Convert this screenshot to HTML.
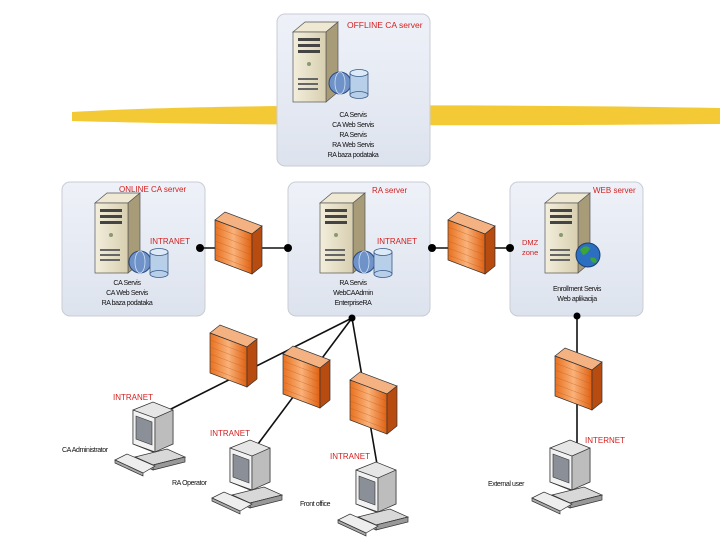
<!DOCTYPE html>
<html><head><meta charset="utf-8"><style>
html,body{margin:0;padding:0;background:#fff;}
svg{display:block;}
text{font-family:"Liberation Sans",sans-serif;}
</style></head><body>
<svg width="720" height="540" viewBox="0 0 720 540" xmlns="http://www.w3.org/2000/svg">
<defs>
<linearGradient id="box" x1="0" y1="0" x2="0" y2="1"><stop offset="0" stop-color="#eef1f8"/><stop offset="1" stop-color="#dde3ee"/></linearGradient>
<linearGradient id="fw" x1="0" y1="0" x2="1" y2="0"><stop offset="0" stop-color="#e8701e"/><stop offset="0.5" stop-color="#f9b27a"/><stop offset="1" stop-color="#e06010"/></linearGradient>
<linearGradient id="srv" x1="0" y1="0" x2="1" y2="0"><stop offset="0" stop-color="#f3eedc"/><stop offset="1" stop-color="#d8cfb0"/></linearGradient>
<g id="server">
  <polygon points="0,10 12,0 45,0 33,10" fill="#efe9d4" stroke="#555" stroke-width="0.7"/>
  <polygon points="33,10 45,0 45,70 33,80" fill="#a89c78" stroke="#555" stroke-width="0.7"/>
  <rect x="0" y="10" width="33" height="70" fill="url(#srv)" stroke="#555" stroke-width="0.7"/>
  <rect x="5" y="16" width="22" height="3" fill="#444"/>
  <rect x="5" y="22" width="22" height="3" fill="#444"/>
  <rect x="5" y="28" width="22" height="3" fill="#444"/>
  <circle cx="16" cy="42" r="2" fill="#8a9a70"/>
  <rect x="5" y="56" width="20" height="2" fill="#666"/>
  <rect x="5" y="61" width="20" height="2" fill="#666"/>
  <rect x="5" y="66" width="20" height="2" fill="#666"/>
</g>
<g id="dbglobe">
  <circle cx="0" cy="0" r="11" fill="#6f93c8" stroke="#2a4a80"/>
  <ellipse cx="0" cy="0" rx="5" ry="11" fill="none" stroke="#cfe0f5" stroke-width="0.8"/>
  <rect x="10" y="-10" width="18" height="22" fill="#b7cfe8" stroke="#3a5a8a" stroke-width="0.8"/>
  <ellipse cx="19" cy="-10" rx="9" ry="3.5" fill="#dce9f6" stroke="#3a5a8a" stroke-width="0.8"/>
  <ellipse cx="19" cy="12" rx="9" ry="3.5" fill="#b7cfe8" stroke="#3a5a8a" stroke-width="0.8"/>
</g>
<g id="firewall">
  <polygon points="0,8 10,0 47,14 37,22" fill="#f4b283" stroke="#333" stroke-width="0.7"/>
  <polygon points="0,8 37,22 37,62 0,48" fill="url(#fw)" stroke="#333" stroke-width="0.7"/>
  <polygon points="37,22 47,14 47,54 37,62" fill="#b84c10" stroke="#333" stroke-width="0.7"/>
  <g stroke="#c0581a" stroke-width="0.5" opacity="0.6">
   <line x1="0" y1="15" x2="37" y2="29"/><line x1="0" y1="22" x2="37" y2="36"/><line x1="0" y1="29" x2="37" y2="43"/><line x1="0" y1="36" x2="37" y2="50"/><line x1="0" y1="43" x2="37" y2="57"/>
  </g>
</g>
<g id="pc">
  <polygon points="20,55 52,47 70,55 38,63" fill="#d8d8d8" stroke="#333" stroke-width="0.7"/>
  <polygon points="38,63 70,55 70,60 38,68" fill="#999" stroke="#333" stroke-width="0.7"/>
  <polygon points="20,55 38,63 38,68 20,60" fill="#bbb" stroke="#333" stroke-width="0.7"/>
  <polygon points="18,8 38,0 58,8 58,42 38,50 18,42" fill="#e6e6e6" stroke="#333" stroke-width="0.7"/>
  <polygon points="18,8 40,16 40,50 18,42" fill="#f2f2f2" stroke="#333" stroke-width="0.7"/>
  <polygon points="21,14 37,20 37,43 21,37" fill="#8a8f98" stroke="#333" stroke-width="0.6"/>
  <polygon points="40,16 58,8 58,42 40,50" fill="#bdbdbd" stroke="#333" stroke-width="0.7"/>
  <polygon points="0,58 12,52 40,64 28,71" fill="#eee" stroke="#333" stroke-width="0.7"/>
  <polygon points="0,58 28,71 28,74 0,61" fill="#aaa" stroke="#333" stroke-width="0.7"/>
</g>
</defs>

<!-- yellow brush stroke -->
<path d="M72,112 C200,104 500,104 720,108 L720,124 C500,126 250,126 72,121 Z" fill="#f2c420" opacity="0.9"/>

<!-- top box -->
<rect x="277" y="14" width="153" height="152" rx="8" fill="url(#box)" stroke="#c8ccd4"/>
<use href="#server" x="293" y="22"/>
<use href="#dbglobe" x="340" y="83"/>
<text x="347" y="28" font-size="8.5" fill="#d42020">OFFLINE CA server</text>
<g font-size="7" fill="#111" text-anchor="middle" letter-spacing="-0.4">
<text x="353" y="117">CA Servis</text><text x="353" y="127">CA Web Servis</text><text x="353" y="137">RA Servis</text><text x="353" y="147">RA Web Servis</text><text x="353" y="157">RA baza podataka</text>
</g>

<!-- row boxes -->
<rect x="62" y="182" width="143" height="134" rx="8" fill="url(#box)" stroke="#c8ccd4"/>
<rect x="288" y="182" width="142" height="134" rx="8" fill="url(#box)" stroke="#c8ccd4"/>
<rect x="510" y="182" width="133" height="134" rx="8" fill="url(#box)" stroke="#c8ccd4"/>

<use href="#server" x="95" y="193"/>
<use href="#dbglobe" x="140" y="262"/>
<text x="119" y="192" font-size="8" fill="#d42020">ONLINE CA server</text>
<text x="150" y="244" font-size="8" fill="#d42020">INTRANET</text>
<g font-size="7" fill="#111" text-anchor="middle" letter-spacing="-0.4">
<text x="127" y="285">CA Servis</text><text x="127" y="295">CA Web Servis</text><text x="127" y="305">RA baza podataka</text>
</g>

<use href="#server" x="320" y="193"/>
<use href="#dbglobe" x="364" y="262"/>
<text x="372" y="193" font-size="8" fill="#d42020">RA server</text>
<text x="377" y="244" font-size="8" fill="#d42020">INTRANET</text>
<g font-size="7" fill="#111" text-anchor="middle" letter-spacing="-0.4">
<text x="353" y="285">RA Servis</text><text x="353" y="295">WebCAAdmin</text><text x="353" y="305">EnterpriseRA</text>
</g>

<use href="#server" x="545" y="193"/>
<circle cx="588" cy="255" r="12" fill="#2c6fc0" stroke="#1a3f70"/>
<path d="M580,250 q5,-6 10,-2 q-2,6 -7,7z M590,258 q6,-2 7,4 q-5,3 -7,-4z" fill="#3aa63a"/>
<text x="593" y="193" font-size="8" fill="#d42020">WEB server</text>
<text x="522" y="245" font-size="7.5" fill="#d42020">DMZ</text>
<text x="522" y="255" font-size="7.5" fill="#d42020">zone</text>
<g font-size="7" fill="#111" text-anchor="middle" letter-spacing="-0.4">
<text x="577" y="291">Enrollment Servis</text><text x="577" y="301">Web aplikacija</text>
</g>

<!-- connectors -->
<g stroke="#111" stroke-width="1.6" fill="none">
<line x1="200" y1="248" x2="288" y2="248"/>
<line x1="432" y1="248" x2="510" y2="248"/>
<line x1="352" y1="318" x2="165" y2="412"/>
<line x1="352" y1="318" x2="255" y2="448"/>
<line x1="352" y1="318" x2="378" y2="470"/>
<line x1="577" y1="316" x2="577" y2="450"/>
</g>
<g fill="#000">
<circle cx="200" cy="248" r="4"/><circle cx="288" cy="248" r="4"/>
<circle cx="432" cy="248" r="4"/><circle cx="510" cy="248" r="4"/>
<circle cx="352" cy="318" r="3.5"/><circle cx="577" cy="316" r="3.5"/>
<circle cx="165" cy="412" r="3.5"/><circle cx="255" cy="448" r="3.5"/><circle cx="378" cy="470" r="3.5"/><circle cx="577" cy="450" r="3.5"/>
</g>

<!-- firewalls -->
<use href="#firewall" x="215" y="212"/>
<use href="#firewall" x="448" y="212"/>
<use href="#firewall" x="210" y="325"/>
<use href="#firewall" x="283" y="346"/>
<use href="#firewall" x="350" y="372"/>
<use href="#firewall" x="555" y="348"/>

<!-- computers -->
<use href="#pc" x="115" y="402"/>
<use href="#pc" x="212" y="440"/>
<use href="#pc" x="338" y="462"/>
<use href="#pc" x="532" y="440"/>

<g font-size="8" fill="#d42020">
<text x="113" y="400">INTRANET</text>
<text x="210" y="436">INTRANET</text>
<text x="330" y="459">INTRANET</text>
<text x="585" y="443">INTERNET</text>
</g>
<g font-size="7" fill="#111" letter-spacing="-0.4">
<text x="62" y="452">CA Administrator</text>
<text x="172" y="485">RA Operator</text>
<text x="300" y="506">Front office</text>
<text x="488" y="486">External user</text>
</g>
</svg>
</body></html>
